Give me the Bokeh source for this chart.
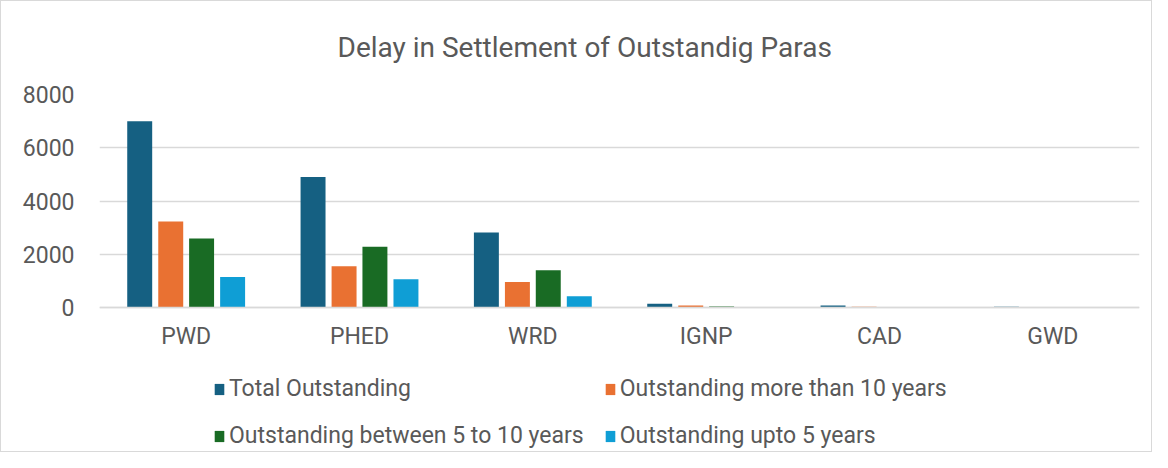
from bokeh.plotting import figure
from bokeh.models import ColumnDataSource, FactorRange, Range1d, Legend, LegendItem, FixedTicker
from bokeh.transform import dodge
from bokeh.embed import file_html
from bokeh.resources import INLINE

categories = ["PWD", "PHED", "WRD", "IGNP", "CAD", "GWD"]
total_outstanding = [7000, 4900, 2820, 140, 75, 30]
more_than_10 = [3230, 1550, 960, 75, 30, 5]
between_5_10 = [2590, 2280, 1400, 40, 10, 3]
upto_5 = [1150, 1060, 420, 20, 20, 2]
y_ticks = [0, 2000, 4000, 6000, 8000]

series_names = ["Total Outstanding", "Outstanding more than 10 years",
                "Outstanding between 5 to 10 years", "Outstanding upto 5 years"]
series_keys = ["total", "more10", "b5_10", "upto5"]
colors = ["#156082", "#E97132", "#196B24", "#0F9ED5"]
offsets = [-0.268, -0.089, 0.089, 0.268]

src = ColumnDataSource(dict(cat=categories, total=total_outstanding, more10=more_than_10,
                            b5_10=between_5_10, upto5=upto_5))

FONT = "Roboto"
TXT = "#595959"

# layout (pixels): frame from y=93 to y=448; value axis 0..8000 occupies 93..306
W, H = 1152, 452
TOP, BOTTOM_BORDER = 93, 4
frame_h = H - TOP - BOTTOM_BORDER
axis_px = 213
y_top = 8000
y_bottom = -y_top * (frame_h - axis_px) / axis_px

p = figure(x_range=FactorRange(factors=categories), y_range=Range1d(y_bottom, y_top),
           width=W, height=H, output_backend="svg", toolbar_location=None,
           min_border_left=98, min_border_right=14, min_border_top=TOP,
           min_border_bottom=BOTTOM_BORDER,
           title="Delay in Settlement of Outstandig Paras")
p.styles = {"border": "1px solid #d9d9d9"}

p.title.align = "left"
p.title.vertical_align = "top"
p.title.text_font = FONT
p.title.text_font_size = "28px"
p.title.text_font_style = "normal"
p.title.text_color = TXT
p.title.standoff = 58
p.title.offset = 238

p.outline_line_color = None
p.xgrid.grid_line_color = None
p.ygrid.grid_line_color = "#d9d9d9"
p.ygrid.grid_line_width = 1.5

p.yaxis.ticker = FixedTicker(ticks=y_ticks)
p.yaxis.axis_line_color = None
p.yaxis.major_tick_line_color = None
p.yaxis.minor_tick_line_color = None
p.yaxis.major_label_standoff = 19
p.yaxis.major_label_text_font = FONT
p.yaxis.major_label_text_font_size = "23px"
p.yaxis.major_label_text_color = TXT

p.xaxis.fixed_location = 0
p.xaxis.axis_line_color = "#d9d9d9"
p.xaxis.axis_line_width = 1.5
p.xaxis.major_tick_line_color = None
p.xaxis.minor_tick_line_color = None
p.xaxis.major_label_standoff = 9
p.xaxis.major_label_text_font = FONT
p.xaxis.major_label_text_font_size = "23px"
p.xaxis.major_label_text_color = TXT

renderers = []
for key, col, off in zip(series_keys, colors, offsets):
    r = p.vbar(x=dodge("cat", off, range=p.x_range), top=key, width=0.144, source=src,
               fill_color=col, line_color=None)
    renderers.append(r)

# legend is filled column by column: order so rows read series 1,2 / 3,4
order = [0, 2, 1, 3]
items = [LegendItem(label=series_names[i], renderers=[renderers[i]]) for i in order]

legend = Legend(items=items, location=(114, 0), ncols=2,
                glyph_width=12, glyph_height=14, label_standoff=4, spacing=20,
                label_height=26, label_text_font=FONT, label_text_font_size="23px",
                label_text_color=TXT, padding=0, margin=0, border_line_color=None,
                background_fill_alpha=0)
p.add_layout(legend)

open("out.html", "w").write(file_html(p, INLINE))
